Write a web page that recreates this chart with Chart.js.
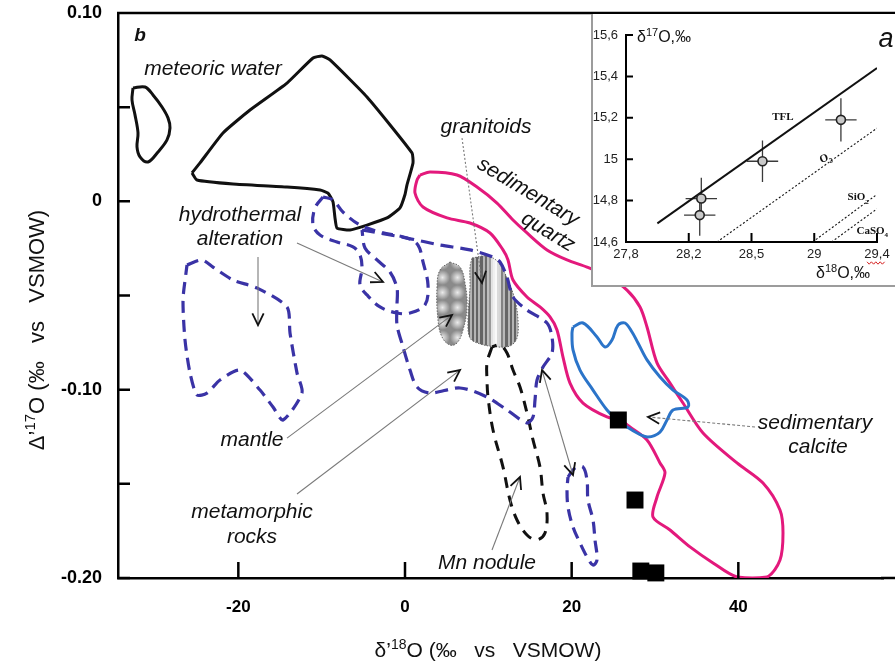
<!DOCTYPE html>
<html lang="en">
<head>
<meta charset="UTF-8">
<title>Δ'17O vs δ'18O</title>
<script src="https://cdn.jsdelivr.net/npm/chart.js"></script>
<style>
  body { margin: 0; background: #fff; }
  #wrap { position: relative; width: 895px; height: 663px; overflow: hidden; background: #fff; }
  #inset { position: absolute; left: 591px; top: 14px; width: 304px; height: 273px; box-sizing: border-box;
           border-left: 2px solid #9c9c9c; border-bottom: 2px solid #9c9c9c; background: #fff; }
  canvas { display: block; }
</style>
</head>
<body>
<div id="wrap">
  <canvas id="mainChart" width="895" height="663"></canvas>
  <div id="inset"><canvas id="insetChart" width="302" height="271"></canvas></div>
</div>
<script>
// main panel (b): axes
const xTickValues = [-20, 0, 20, 40];
const xTickLabels = ['-20', '0', '20', '40'];
const yTickValues = [-0.2, -0.15, -0.1, -0.05, 0, 0.05, 0.1];
const yTickLabels = ['-0.20', '', '-0.10', '', '0', '', '0.10'];

// field outlines [δ'18O, Δ'17O]
const meteoricSmall = [[-32.64,0.0602],[-31.2,0.0607],[-30.24,0.0565],[-29.16,0.0501],[-28.44,0.0443],[-28.2,0.039],
  [-28.56,0.0326],[-29.64,0.0262],[-30.84,0.0209],[-31.8,0.0236],[-32.16,0.0289],[-32.04,0.0363],[-32.4,0.0459],[-32.76,0.0538]];
const meteoricBig = [[-25.56,0.0151],[-24.6,0.0204],[-21.84,0.0363],[-18.6,0.0485],[-14.16,0.0628],[-11.04,0.0761],
  [-9.96,0.0772],[-9.0,0.0751],[-4.56,0.0554],[0.84,0.0257],[0.96,0.0204],[0.24,0.0088],[0.0,0.0036],[-0.6,-0.0035],
  [-2.16,-0.0088],[-4.56,-0.0126],[-6.6,-0.0152],[-8.16,-0.0142],[-8.4,-0.0088],[-8.64,-0.0003],[-9.24,0.0044],
  [-10.2,0.006],[-14.16,0.0076],[-20.64,0.0092],[-24.96,0.0113]];
const hydroLeft = [[-26.16,-0.0338],[-24.36,-0.0311],[-23.04,-0.0349],[-20.64,-0.0418],[-17.76,-0.046],[-14.16,-0.0561],
  [-13.8,-0.0699],[-12.96,-0.0911],[-12.36,-0.1018],[-14.64,-0.1161],[-15.84,-0.1092],[-17.4,-0.1002],[-19.8,-0.0896],
  [-22.2,-0.0949],[-23.76,-0.1018],[-24.96,-0.1028],[-25.8,-0.0911],[-26.4,-0.0736],[-26.64,-0.0524],[-26.28,-0.038]];
const hydroLoop = [[-9.84,0.0023],[-10.8,-0.0035],[-11.04,-0.0126],[-10.2,-0.0179],[-8.16,-0.0216],[-6.24,-0.0242],
  [-5.4,-0.0285],[-5.16,-0.0354],[-5.4,-0.0444],[-4.56,-0.0497],[-3.0,-0.0561],[-0.96,-0.0593],[0.6,-0.0593],
  [2.4,-0.055],[2.76,-0.0444],[2.16,-0.0322],[1.56,-0.0232],[0.24,-0.0195],[-3.0,-0.0163],[-5.4,-0.0126],
  [-7.44,-0.0057],[-8.64,0.0007]];
const metamorphic = [[-5.16,-0.0152],[0.24,-0.0195],[4.2,-0.0232],[7.8,-0.0258],[10.56,-0.0296],[11.4,-0.0322],
  [12.24,-0.0402],[12.96,-0.0508],[14.64,-0.0577],[17.04,-0.0646],[17.64,-0.072],[17.64,-0.0805],[16.56,-0.088],
  [15.84,-0.0949],[15.6,-0.1055],[15.36,-0.1145],[14.64,-0.1177],[12.24,-0.1108],[9.84,-0.1039],[6.6,-0.0991],
  [3.0,-0.1018],[1.44,-0.0986],[0.6,-0.0896],[-0.24,-0.0773],[-0.96,-0.0657],[-0.96,-0.055],[-0.96,-0.046],
  [-1.8,-0.0375],[-3.36,-0.0311],[-4.8,-0.0248]];
const lowLoop = [[19.56,-0.1464],[20.4,-0.1416],[21.36,-0.1411],[21.84,-0.148],[21.96,-0.1586],[22.56,-0.1692],
  [22.8,-0.1798],[23.04,-0.1904],[22.56,-0.1931],[21.84,-0.1888],[21.0,-0.1814],[20.16,-0.1729],[19.56,-0.1623],[19.44,-0.1533]];
const mnNodule = [[10.44,-0.0773],[9.84,-0.0858],[9.84,-0.0949],[9.96,-0.1039],[10.56,-0.1214],[11.76,-0.1411],
  [12.6,-0.1586],[13.44,-0.1692],[14.64,-0.1772],[15.84,-0.1798],[16.8,-0.1761],[17.04,-0.1655],[16.56,-0.1549],
  [16.2,-0.1411],[15.36,-0.1267],[14.64,-0.1124],[13.8,-0.0986],[12.96,-0.0896],[12.24,-0.0805],[11.4,-0.0763]];
const sedQuartz = [[1.8,0.014],[3.0,0.0156],[6.24,0.014],[8.64,0.0076],[11.04,-0.0009],[12.96,-0.0099],[14.64,-0.0168],
  [17.04,-0.0258],[19.44,-0.0311],[21.84,-0.0349],[24.24,-0.0396],[26.64,-0.0471],[28.2,-0.0561],[29.04,-0.0667],
  [30.24,-0.0858],[31.8,-0.0965],[33.36,-0.1071],[35.76,-0.123],[39.84,-0.1389],[42.96,-0.1496],[45.0,-0.1639],
  [45.36,-0.1761],[45.0,-0.1904],[43.44,-0.1995],[39.84,-0.1995],[36.96,-0.192],[34.2,-0.1835],[31.8,-0.1745],
  [29.76,-0.1676],[30.24,-0.157],[31.2,-0.1442],[30.6,-0.1389],[29.04,-0.1267],[27.0,-0.1198],[25.8,-0.1161],
  [24.24,-0.1145],[21.36,-0.1071],[19.8,-0.0965],[18.96,-0.0827],[18.24,-0.0683],[17.4,-0.0614],[16.2,-0.0561],
  [14.64,-0.0508],[12.96,-0.0418],[12.36,-0.0311],[11.76,-0.0258],[10.2,-0.0168],[7.8,-0.0115],[5.04,-0.0088],
  [2.16,-0.003],[1.2,0.0044],[1.44,0.0113]];
const sedCalcite = [[20.16,-0.0667],[21.36,-0.0646],[23.04,-0.072],[24.0,-0.0773],[24.84,-0.0736],[25.56,-0.0657],
  [26.4,-0.0646],[27.24,-0.0694],[27.96,-0.0752],[29.04,-0.0842],[30.6,-0.0933],[32.16,-0.1002],[33.84,-0.1055],
  [33.96,-0.1092],[32.16,-0.1108],[31.44,-0.1161],[30.6,-0.1225],[29.16,-0.1251],[27.84,-0.123],[26.64,-0.1198],
  [25.44,-0.1161],[24.24,-0.1108],[22.56,-0.1002],[21.0,-0.0896],[20.16,-0.0789],[20.04,-0.0699]];
const mantle = [[5.4,-0.0322],[6.6,-0.0349],[7.2,-0.0434],[7.44,-0.0561],[6.96,-0.0683],[6.24,-0.0752],[5.4,-0.0763],
  [4.44,-0.072],[3.96,-0.063],[3.84,-0.0455],[4.2,-0.0365]];
const granitoids = [[8.04,-0.0301],[9.84,-0.029],[11.16,-0.0322],[12.36,-0.0418],[13.2,-0.0524],[13.56,-0.063],
  [13.44,-0.0726],[12.6,-0.0768],[11.04,-0.0773],[9.0,-0.0757],[7.8,-0.0726],[7.56,-0.063],[7.8,-0.0455],[7.8,-0.0349]];

// measured samples (black squares)
const sampleX = [25.6, 27.6, 28.3, 30.1];
const sampleY = [-0.1161, -0.1586, -0.1963, -0.1973];

// arrows: x0, y0, x1, y1, line style, heads
const arrowLines = [
  [-12.96, -0.0221, -2.64, -0.0428, 'solid', 1],
  [-17.64, -0.0296, -17.64, -0.0657, 'solid', 1],
  [6.84, 0.0336, 9.24, -0.0434, 'dot', 1],
  [-14.16, -0.1257, 5.64, -0.0604, 'solid', 1],
  [-12.96, -0.1554, 6.6, -0.0896, 'solid', 1],
  [10.44, -0.1851, 13.8, -0.1464, 'solid', 1],
  [16.44, -0.0896, 20.16, -0.1453, 'solid', 2],
  [42.0, -0.1198, 29.16, -0.1145, 'dash', 1]
];
// labels: text, x, y, rotation (deg)
const noteLabels = [
  ['meteoric water', -23.04, 0.0703, 0],
  ['hydrothermal', -19.8, -0.0073, 0],
  ['alteration', -19.8, -0.02, 0],
  ['granitoids', 9.72, 0.0395, 0],
  ['sedimentary', 14.76, 0.005, 31],
  ['quartz', 17.16, -0.0163, 31],
  ['mantle', -18.36, -0.1267, 0],
  ['metamorphic', -18.36, -0.165, 0],
  ['rocks', -18.36, -0.1782, 0],
  ['Mn nodule', 9.84, -0.192, 0],
  ['sedimentary', 49.2, -0.1177, 0],
  ['calcite', 49.56, -0.1304, 0]
];

// inset (a)
const insetXTicks = [27.8, 28.2, 28.6, 29.0, 29.4];
const insetXLabels = ['27,8', '28,2', '28,5', '29', '29,4'];
const insetYTicks = [14.6, 14.8, 15.0, 15.2, 15.4, 15.6];
const insetYLabels = ['14,6', '14,8', '15', '15,2', '15,4', '15,6'];
const insetX = [28.28, 28.27, 28.67, 29.17];
const insetY = [14.81, 14.73, 14.99, 15.19];
const insetXErr = [0.10, 0.10, 0.10, 0.10];
const insetYErr = [0.10, 0.10, 0.10, 0.105];
const tflLine = [[28.0, 14.69], [29.4, 15.44]];
const o2Line = [[28.38, 14.6], [29.4, 15.15]];
const sio2Line = [[28.99, 14.6], [29.4, 14.83]];
const caso4Line = [[29.11, 14.6], [29.4, 14.76]];

const FONT = 'Arial, "Liberation Sans", sans-serif';
const pts = arr => arr.map(p => ({ x: p[0], y: p[1] }));
const closed = arr => pts(arr.concat([arr[0]]));

function outline(data, color, dash, tension, order, width) {
  return { type: 'line', data: closed(data), borderColor: color, borderWidth: width || 3, borderDash: dash || [],
    tension: tension, pointRadius: 0, fill: false, order: order };
}

// textured fills
function mantleFill(c) {
  const t = document.createElement('canvas');
  t.width = 15; t.height = 15;
  const g = t.getContext('2d');
  g.fillStyle = '#8a8a8a';
  g.fillRect(0, 0, 15, 15);
  const rg = g.createRadialGradient(7.5, 7.5, 0, 7.5, 7.5, 7.5);
  rg.addColorStop(0, 'rgba(235,235,235,1)');
  rg.addColorStop(1, 'rgba(235,235,235,0)');
  g.fillStyle = rg;
  g.fillRect(0, 0, 15, 15);
  return c.chart.ctx.createPattern(t, 'repeat');
}
function granitoidFill(c) {
  const chart = c.chart;
  const xs = chart.scales.x;
  if (!xs || !chart.chartArea) return '#aaa';
  const vals = granitoids.map(p => p[0]);
  const x0 = xs.getPixelForValue(Math.min(...vals));
  const x1 = xs.getPixelForValue(Math.max(...vals));
  const grad = chart.ctx.createLinearGradient(x0, 0, x1, 0);
  const n = 24;
  for (let i = 0; i < n; i++) {
    const a = i / n, b = (i + 1) / n, m = (a + b) / 2;
    const band = Math.exp(-Math.pow((m - 0.55) / 0.11, 2));
    const base = 140 + 110 * band;
    const v = Math.max(40, Math.min(255, Math.round(base + (i % 2 ? 40 : -40) * (1 - band))));
    const col = `rgb(${v},${v},${v})`;
    grad.addColorStop(a, col);
    grad.addColorStop(b - 0.001, col);
  }
  return grad;
}

// inward tick marks and frame
const frame = {
  id: 'frame',
  afterDraw(chart, args, o) {
    const { ctx, chartArea: a, scales } = chart;
    ctx.save();
    ctx.strokeStyle = '#000';
    ctx.lineWidth = o.width;
    ctx.beginPath();
    scales.x.ticks.forEach(t => {
      const p = scales.x.getPixelForValue(t.value);
      ctx.moveTo(p, a.bottom); ctx.lineTo(p, a.bottom - o.xLen);
    });
    scales.y.ticks.forEach(t => {
      const p = scales.y.getPixelForValue(t.value);
      ctx.moveTo(a.left, p); ctx.lineTo(a.left + o.yLen, p);
    });
    if (o.top) { ctx.moveTo(a.left - 1, a.top); ctx.lineTo(chart.width, a.top); }
    if (o.extend) { ctx.moveTo(a.right - 2, a.bottom); ctx.lineTo(chart.width, a.bottom); }
    ctx.stroke();
    ctx.restore();
  }
};

function richText(ctx, parts, x, y, size, style, family, align) {
  const f = m => `${style} ${m ? Math.round(size * 0.68) : size}px ${family}`;
  let w = 0;
  parts.forEach(([t, m]) => { ctx.font = f(m); w += ctx.measureText(t).width; });
  let cx = align === 'center' ? x - w / 2 : align === 'right' ? x - w : x;
  ctx.textAlign = 'left';
  ctx.textBaseline = 'alphabetic';
  parts.forEach(([t, m]) => {
    ctx.font = f(m);
    const dy = m === 1 ? -size * 0.4 : m === -1 ? size * 0.28 : 0;
    ctx.fillText(t, cx, y + dy);
    cx += ctx.measureText(t).width;
  });
}

function arrowHead(ctx, x0, y0, x1, y1) {
  const ang = Math.atan2(y1 - y0, x1 - x0), L = 13, w = 0.45;
  ctx.beginPath();
  ctx.moveTo(x1 - L * Math.cos(ang - w), y1 - L * Math.sin(ang - w));
  ctx.lineTo(x1, y1);
  ctx.lineTo(x1 - L * Math.cos(ang + w), y1 - L * Math.sin(ang + w));
  ctx.stroke();
}

const notes = {
  id: 'notes',
  afterDatasetsDraw(chart) {
    const { ctx, scales: { x, y } } = chart;
    ctx.save();
    arrowLines.forEach(([a, b, c, d, style, heads]) => {
      const x0 = x.getPixelForValue(a), y0 = y.getPixelForValue(b);
      const x1 = x.getPixelForValue(c), y1 = y.getPixelForValue(d);
      ctx.strokeStyle = '#7a7a7a';
      ctx.lineWidth = 1.1;
      ctx.setLineDash(style === 'dot' ? [2, 2] : style === 'dash' ? [3, 2] : []);
      ctx.beginPath(); ctx.moveTo(x0, y0); ctx.lineTo(x1, y1); ctx.stroke();
      ctx.setLineDash([]);
      ctx.strokeStyle = '#111';
      ctx.lineWidth = 1.8;
      arrowHead(ctx, x0, y0, x1, y1);
      if (heads === 2) arrowHead(ctx, x1, y1, x0, y0);
    });
    ctx.fillStyle = '#111';
    ctx.textAlign = 'center';
    ctx.textBaseline = 'middle';
    ctx.font = `italic 21px ${FONT}`;
    noteLabels.forEach(([t, a, b, r]) => {
      ctx.save();
      ctx.translate(x.getPixelForValue(a), y.getPixelForValue(b));
      ctx.rotate(r * Math.PI / 180);
      ctx.fillText(t, 0, 0);
      ctx.restore();
    });
    ctx.font = `bold italic 19px ${FONT}`;
    ctx.fillText('b', x.getPixelForValue(-31.8), y.getPixelForValue(0.0878));
    ctx.restore();
  },
  afterDraw(chart) {
    const { ctx } = chart;
    ctx.save();
    ctx.fillStyle = '#111';
    richText(ctx, [['δ\u2019', 0], ['18', 1], ['O (‰   vs   VSMOW)', 0]], 488, 657, 21, '', FONT, 'center');
    ctx.translate(44, 330);
    ctx.rotate(-Math.PI / 2);
    richText(ctx, [['Δ\u2019', 0], ['17', 1], ['O (‰   vs   VSMOW)', 0]], 0, 0, 22, '', FONT, 'center');
    ctx.restore();
  }
};

const mainChart = new Chart(document.getElementById('mainChart'), {
  type: 'scatter',
  data: {
    datasets: [
      { type: 'scatter', data: sampleX.map((v, i) => ({ x: v, y: sampleY[i] })), pointStyle: 'rect', pointRadius: 12,
        backgroundColor: '#000', borderColor: '#000', borderWidth: 0, clip: false, order: 0 },
      outline(lowLoop, '#3a33a6', [12, 7], 0.35, 2, 3.2),
      outline(metamorphic, '#3a33a6', [13, 7], 0.3, 2, 3.2),
      outline(hydroLoop, '#3a33a6', [11, 7], 0.35, 2, 3.2),
      outline(hydroLeft, '#3a33a6', [12, 7], 0.25, 2, 3.2),
      outline(mnNodule, '#111', [11, 8], 0.35, 2),
      outline(sedCalcite, '#2b74c9', [], 0.35, 3),
      outline(sedQuartz, '#e3197c', [], 0.3, 3),
      outline(meteoricBig, '#111', [], 0.15, 3),
      outline(meteoricSmall, '#111', [], 0.35, 3),
      { type: 'line', data: closed(granitoids), borderColor: '#666', borderWidth: 1, borderDash: [1.5, 1.5],
        tension: 0.35, pointRadius: 0, fill: 'shape', backgroundColor: granitoidFill, order: 4 },
      { type: 'line', data: closed(mantle), borderColor: '#666', borderWidth: 1, borderDash: [1.5, 1.5],
        tension: 0.4, pointRadius: 0, fill: 'shape', backgroundColor: mantleFill, order: 4 }
    ]
  },
  options: {
    responsive: false,
    animation: false,
    devicePixelRatio: 1,
    layout: { padding: { top: 13, right: 0, left: 0, bottom: 0 } },
    plugins: {
      legend: { display: false },
      tooltip: { enabled: false },
      frame: { width: 2.5, xLen: 16, yLen: 12, top: true, extend: true }
    },
    scales: {
      // the square markers reserve 12px on the right, so the visible range ends at 57.4
      x: {
        type: 'linear', min: -34.44, max: 57.36,
        afterBuildTicks: s => { s.ticks = xTickValues.map(v => ({ value: v })); },
        afterFit: s => { s.height = 85; s.paddingLeft = 0; s.paddingRight = 0; },
        grid: { display: false, drawTicks: false },
        border: { display: true, color: '#000', width: 2.5 },
        ticks: { padding: 19, color: '#000', font: { family: FONT, size: 17, weight: 'bold' },
                 callback: (v, i) => xTickLabels[i] }
      },
      y: {
        type: 'linear', min: -0.2, max: 0.1,
        afterBuildTicks: s => { s.ticks = yTickValues.map(v => ({ value: v })); },
        afterFit: s => { s.width = 118; s.paddingTop = 0; s.paddingBottom = 0; },
        grid: { display: false, drawTicks: false },
        border: { display: true, color: '#000', width: 2.5 },
        ticks: { padding: 16, color: '#000', font: { family: FONT, size: 18, weight: 'bold' },
                 callback: (v, i) => yTickLabels[i] }
      }
    }
  },
  plugins: [frame, notes]
});

// inset decorations
const insetNotes = {
  id: 'insetNotes',
  beforeDatasetsDraw(chart) {
    const { ctx, scales: { x, y } } = chart;
    ctx.save();
    ctx.strokeStyle = '#3a3a3a';
    ctx.lineWidth = 1.3;
    ctx.beginPath();
    insetX.forEach((v, i) => {
      const px = x.getPixelForValue(v), py = y.getPixelForValue(insetY[i]);
      ctx.moveTo(x.getPixelForValue(v - insetXErr[i]), py);
      ctx.lineTo(x.getPixelForValue(v + insetXErr[i]), py);
      ctx.moveTo(px, y.getPixelForValue(insetY[i] - insetYErr[i]));
      ctx.lineTo(px, y.getPixelForValue(insetY[i] + insetYErr[i]));
    });
    ctx.stroke();
    ctx.restore();
  },
  afterDraw(chart) {
    const { ctx, scales: { x, y } } = chart;
    ctx.save();
    ctx.fillStyle = '#111';
    const serif = '"Liberation Serif", "Times New Roman", serif';
    richText(ctx, [['TFL', 0]], x.getPixelForValue(28.8), y.getPixelForValue(15.207) + 4, 11, 'bold', serif, 'center');
    ctx.save();
    ctx.translate(x.getPixelForValue(29.07), y.getPixelForValue(15.01));
    ctx.rotate(-0.35);
    richText(ctx, [['O', 0], ['2', -1]], 0, 4, 11, 'bold', serif, 'center');
    ctx.restore();
    richText(ctx, [['SiO', 0], ['2', -1]], x.getPixelForValue(29.28), y.getPixelForValue(14.82) + 4, 11, 'bold', serif, 'center');
    richText(ctx, [['CaSO', 0], ['4', -1]], x.getPixelForValue(29.37), y.getPixelForValue(14.66) + 4, 11, 'bold', serif, 'center');
    richText(ctx, [['δ', 0], ['17', 1], ['O,‰', 0]], 44, 28, 16, '', FONT, 'left');
    richText(ctx, [['δ', 0], ['18', 1], ['O,‰', 0]], 250, 264, 16, '', FONT, 'center');
    ctx.font = `italic 27px ${FONT}`;
    ctx.textAlign = 'center';
    ctx.textBaseline = 'alphabetic';
    ctx.fillText('a', 293, 33);
    // red squiggle under the last tick label
    const sx = x.getPixelForValue(29.4);
    const sy = chart.chartArea.bottom + 21;
    ctx.strokeStyle = '#d42020';
    ctx.lineWidth = 1;
    ctx.beginPath();
    for (let k = 0; k <= 8; k++) {
      const px = sx - 10 + k * 2.2, py = sy + (k % 2 ? 1.2 : -1.2);
      if (k === 0) ctx.moveTo(px, py); else ctx.lineTo(px, py);
    }
    ctx.stroke();
    ctx.restore();
  }
};

const lineSet = (arr, dash, w) => ({ type: 'line', data: pts(arr), borderColor: '#111', borderWidth: w,
  borderDash: dash, pointRadius: 0, fill: false, tension: 0 });

const insetChart = new Chart(document.getElementById('insetChart'), {
  type: 'scatter',
  data: {
    datasets: [
      { type: 'scatter', data: insetX.map((v, i) => ({ x: v, y: insetY[i] })), pointRadius: 4.5,
        backgroundColor: '#c9c9c9', borderColor: '#222', borderWidth: 1.6 },
      lineSet(tflLine, [], 2),
      lineSet(o2Line, [2, 2], 1.1),
      lineSet(sio2Line, [2, 2], 1.1),
      lineSet(caso4Line, [2, 2], 1.1)
    ]
  },
  options: {
    responsive: false,
    animation: false,
    devicePixelRatio: 1,
    layout: { padding: { top: 21, right: 18, left: 0, bottom: 0 } },
    plugins: {
      legend: { display: false },
      tooltip: { enabled: false },
      frame: { width: 2, xLen: 9, yLen: 7, top: false }
    },
    scales: {
      x: {
        type: 'linear', min: 27.8, max: 29.4,
        afterBuildTicks: s => { s.ticks = insetXTicks.map(v => ({ value: v })); },
        afterFit: s => { s.height = 43; s.paddingLeft = 0; s.paddingRight = 0; },
        grid: { display: false, drawTicks: false },
        border: { display: true, color: '#000', width: 2 },
        ticks: { padding: 5, color: '#222', font: { family: FONT, size: 13 }, callback: (v, i) => insetXLabels[i] }
      },
      y: {
        type: 'linear', min: 14.6, max: 15.6,
        afterBuildTicks: s => { s.ticks = insetYTicks.map(v => ({ value: v })); },
        afterFit: s => { s.width = 33; s.paddingTop = 0; s.paddingBottom = 0; },
        grid: { display: false, drawTicks: false },
        border: { display: true, color: '#000', width: 2 },
        ticks: { padding: 8, color: '#222', font: { family: FONT, size: 13 }, callback: (v, i) => insetYLabels[i] }
      }
    }
  },
  plugins: [frame, insetNotes]
});
</script>
</body>
</html>
